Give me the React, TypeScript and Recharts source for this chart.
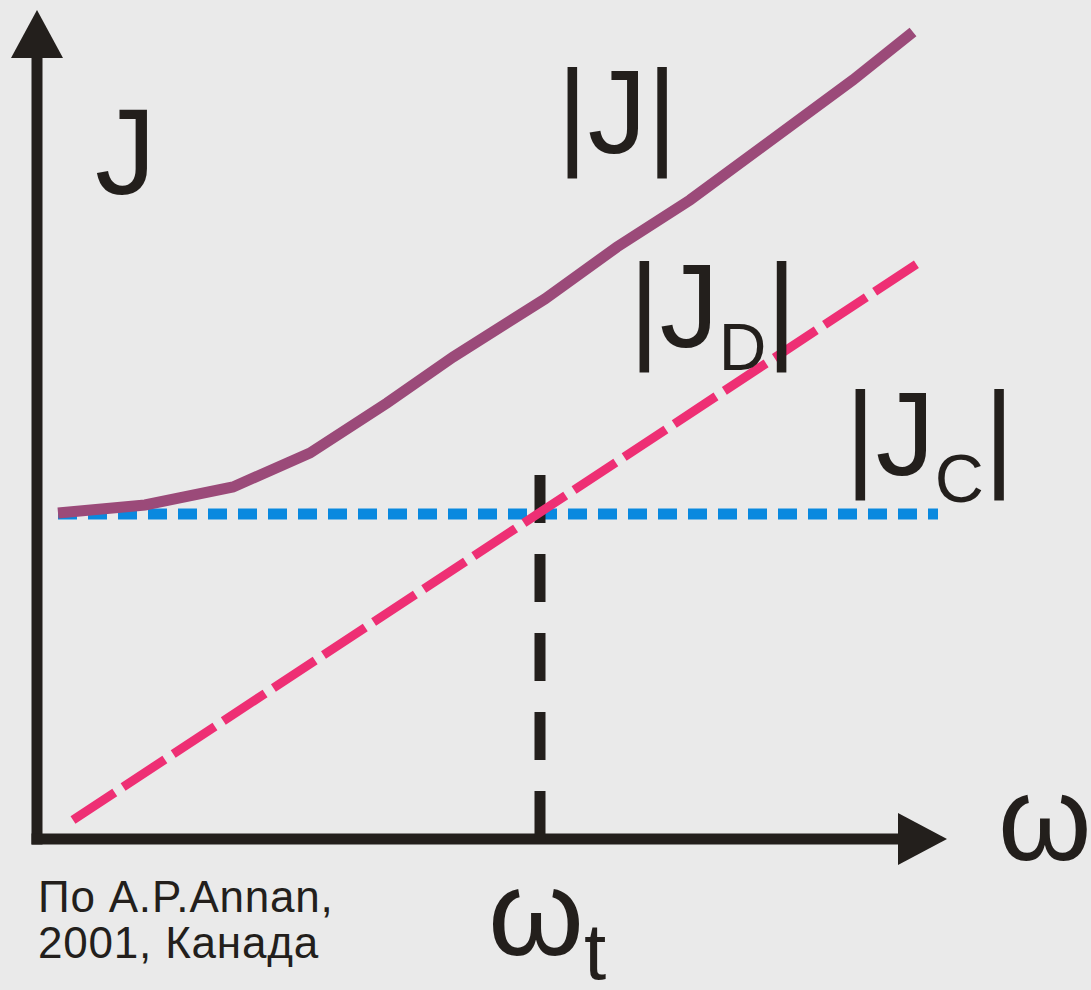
import React from "react";
import {
  ComposedChart,
  Line,
  XAxis,
  YAxis,
  ReferenceLine,
  ReferenceDot,
} from "recharts";

// |J| — total current density (arbitrary units)
const omegaTotal = [2.1, 10.8, 19.6, 27.3, 35.0, 41.6, 50.8, 58.0, 65.3, 81.6, 87.6];
const totalJ = [32.6, 33.4, 35.2, 38.6, 43.6, 48.2, 54.0, 59.2, 63.9, 75.9, 80.7];

// |J_D| — displacement current, straight line
const omegaDisp = [3.6, 88.6];
const dispJ = [1.9, 57.9];

// |J_C| — conduction current, constant
const omegaCond = [2.1, 90.1];
const condJ = [32.5, 32.5];

// transition frequency marker
const omegaT = [50.3, 50.3];
const markerJ = [0, 36.5];

// axis extents
const xMax = 91;
const yMax = 82.9;
const xArrowBase = 86.1;
const yArrowBase = 78.1;

const ink = "#231f1c";
const bg = "#eaeaea";
const font = "'Liberation Sans', Arial, sans-serif";

const zip = (xs: number[], ys: number[]) => xs.map((w, i) => ({ w, J: ys[i] }));

const totalData = zip(omegaTotal, totalJ);
const dispData = zip(omegaDisp, dispJ);
const condData = zip(omegaCond, condJ);
const markerData = zip(omegaT, markerJ);

const UpArrow = (props: any) => {
  const { cx, cy } = props;
  return (
    <polygon
      points={`${cx},${cy} ${cx - 26},${cy + 48} ${cx + 26},${cy + 48}`}
      fill={ink}
    />
  );
};

const RightArrow = (props: any) => {
  const { cx, cy } = props;
  return (
    <polygon
      points={`${cx},${cy} ${cx - 49},${cy - 26} ${cx - 49},${cy + 26}`}
      fill={ink}
    />
  );
};

export default function App() {
  return (
    <div
      style={{
        position: "absolute",
        left: 0,
        top: 0,
        width: 1091,
        height: 990,
        background: bg,
        overflow: "hidden",
      }}
    >
      <ComposedChart
        width={1091}
        height={990}
        margin={{ top: 10, right: 144, bottom: 151, left: 37 }}
      >
        <XAxis type="number" dataKey="w" domain={[0, xMax]} hide />
        <YAxis type="number" dataKey="J" domain={[0, yMax]} hide />

        {/* axes */}
        <ReferenceLine
          segment={[{ x: 0, y: 0 }, { x: 0, y: yArrowBase }]}
          stroke={ink}
          strokeWidth={11}
          strokeLinecap="square"
          ifOverflow="visible"
        />
        <ReferenceLine
          segment={[{ x: 0, y: 0 }, { x: xArrowBase, y: 0 }]}
          stroke={ink}
          strokeWidth={11}
          strokeLinecap="square"
          ifOverflow="visible"
        />
        <ReferenceDot x={0} y={yMax} r={0} shape={UpArrow} ifOverflow="visible" />
        <ReferenceDot x={xMax} y={0} r={0} shape={RightArrow} ifOverflow="visible" />

        <Line
          data={condData}
          dataKey="J"
          stroke="#0a89df"
          strokeWidth={11}
          strokeDasharray="19 11"
          dot={false}
          activeDot={false}
          isAnimationActive={false}
        />
        <Line
          data={markerData}
          dataKey="J"
          stroke={ink}
          strokeWidth={11}
          strokeDasharray="48 31"
          dot={false}
          activeDot={false}
          isAnimationActive={false}
        />
        <Line
          data={dispData}
          dataKey="J"
          stroke="#ee2f74"
          strokeWidth={9}
          strokeDasharray="50 10"
          dot={false}
          activeDot={false}
          isAnimationActive={false}
        />
        <Line
          data={totalData}
          dataKey="J"
          stroke="#9b4a79"
          strokeWidth={11}
          dot={false}
          activeDot={false}
          isAnimationActive={false}
        />
      </ComposedChart>

      {/* labels */}
      <svg
        width={1091}
        height={990}
        style={{ position: "absolute", left: 0, top: 0, pointerEvents: "none" }}
        fontFamily={font}
        fill={ink}
      >
        <text x={95} y={194} fontSize={122}>J</text>
        <text x={557} y={153} fontSize={118}>|J|</text>
        <text x={629} y={347} fontSize={118}>
          |J<tspan fontSize={66} dy={23}>D</tspan>
          <tspan dy={-23}>|</tspan>
        </text>
        <text x={845} y={475} fontSize={118}>
          |J<tspan fontSize={68} dy={27}>C</tspan>
          <tspan dy={-27}>|</tspan>
        </text>
        <text x={998} y={860} fontSize={120}>ω</text>
        <text x={488} y={955} fontSize={123}>
          ω<tspan fontSize={80} dy={24}>t</tspan>
        </text>
        <text x={38} y={912} fontSize={44} letterSpacing={0.8}>По A.P.Annan,</text>
        <text x={38} y={958} fontSize={44} letterSpacing={0.8}>2001, Канада</text>
      </svg>
    </div>
  );
}
